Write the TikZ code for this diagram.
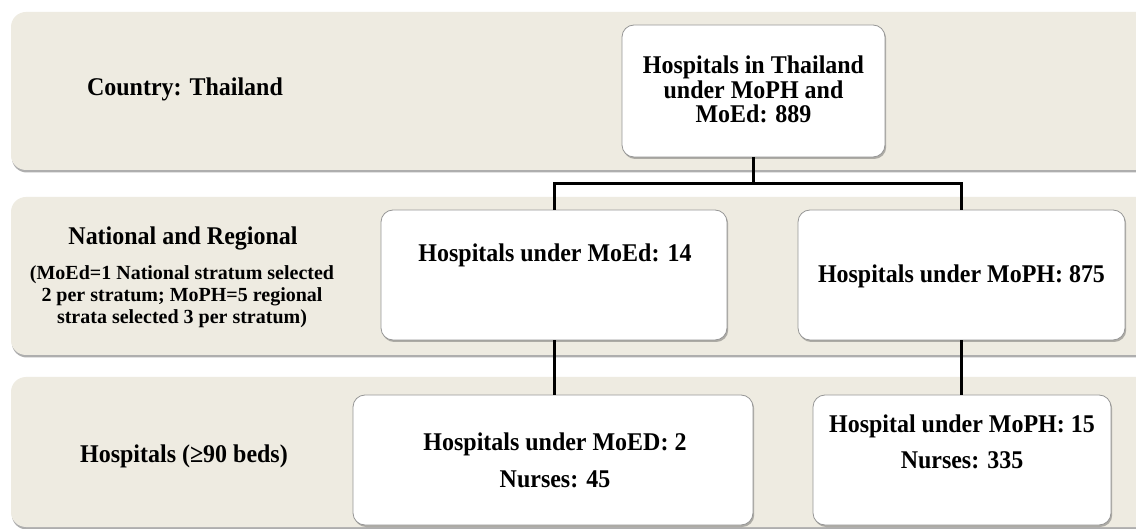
\documentclass[tikz,border=0pt]{standalone}
\usepackage{fontspec}
\setmainfont{Liberation Serif}
\newfontfamily\boxserif[FakeStretch=0.94]{Liberation Serif}
\usetikzlibrary{shadows,calc}
\definecolor{bandfill}{RGB}{238,235,225}
\definecolor{boxline}{RGB}{150,150,150}
\begin{document}
\begin{tikzpicture}[x=1pt,y=-1pt,
  band/.style={fill=bandfill, rounded corners=15pt,
    drop shadow={shadow xshift=0.8pt, shadow yshift=-2.5pt, opacity=0.45, fill=black!70}},
  unit/.style={draw=boxline, line width=0.8pt, fill=white, rounded corners=12pt,
    drop shadow={shadow xshift=1.2pt, shadow yshift=-2pt, opacity=0.4, fill=black!70}},
  txt/.style={inner sep=0pt, font=\boxserif\fontsize{25.5}{24.5}\selectfont\bfseries, align=center},
  small/.style={inner sep=0pt, font=\fontsize{20}{22}\selectfont\bfseries, align=center},
  conn/.style={line width=3pt, black}]
\useasboundingbox (0,0) rectangle (1136,529);
\clip (0,0) rectangle (1136,529);
\fill[white] (0,0) rectangle (1136,529);

% level bands
\path[band] (11,12) rectangle (1180,170);
\path[band] (11,197) rectangle (1180,355);
\path[band] (11,377) rectangle (1180,527);

% level labels
\node[txt, anchor=base] (lab1) at (185,96) {Country: Thailand};
\node[txt, anchor=base] (lab2) at (183,245) {National and Regional};
\node[small, anchor=north] (lab2s) at (182,265.2)
  {(MoEd=1 National stratum selected\\2 per stratum; MoPH=5 regional\\strata selected 3 per stratum)};
\node[txt, anchor=base] (lab3) at (184,462) {Hospitals (≥90 beds)};

% boxes
\node[unit, minimum width=263pt, minimum height=132pt] (top) at (753.5,91) {};
\node[unit, minimum width=346pt, minimum height=130pt] (mL) at (554,275) {};
\node[unit, minimum width=327pt, minimum height=130pt] (mR) at (961.5,275) {};
\node[unit, minimum width=400pt, minimum height=130pt] (bL) at (553,460) {};
\node[unit, minimum width=298pt, minimum height=130pt] (bR) at (962,460) {};

% box texts
\node[txt, anchor=north] (topT) at (753.5,56) {Hospitals in Thailand\\under MoPH and\\MoEd: 889};
\node[txt, anchor=base] (mLT) at (555,262) {Hospitals under MoEd: 14};
\node[txt, anchor=base] (mRT) at (961.5,283) {Hospitals under MoPH: 875};
\node[txt, anchor=north] (bLT) at (555,433) {Hospitals under MoED: 2\\[12pt]Nurses: 45};
\node[txt, anchor=north] (bRT) at (962,415) {Hospital under MoPH: 15\\[11.5pt]Nurses: 335};

% connectors
\coordinate (split) at ($(top.south)+(0,26)$);
\draw[conn] (top.south) -- (split) -| (mL.north);
\draw[conn] (top.south) -- (split) -| (mR.north);
\draw[conn] (mL.south) -- (mL.south |- bL.north);
\draw[conn] (mR.south) -- (mR.south |- bR.north);
\end{tikzpicture}
\end{document}
